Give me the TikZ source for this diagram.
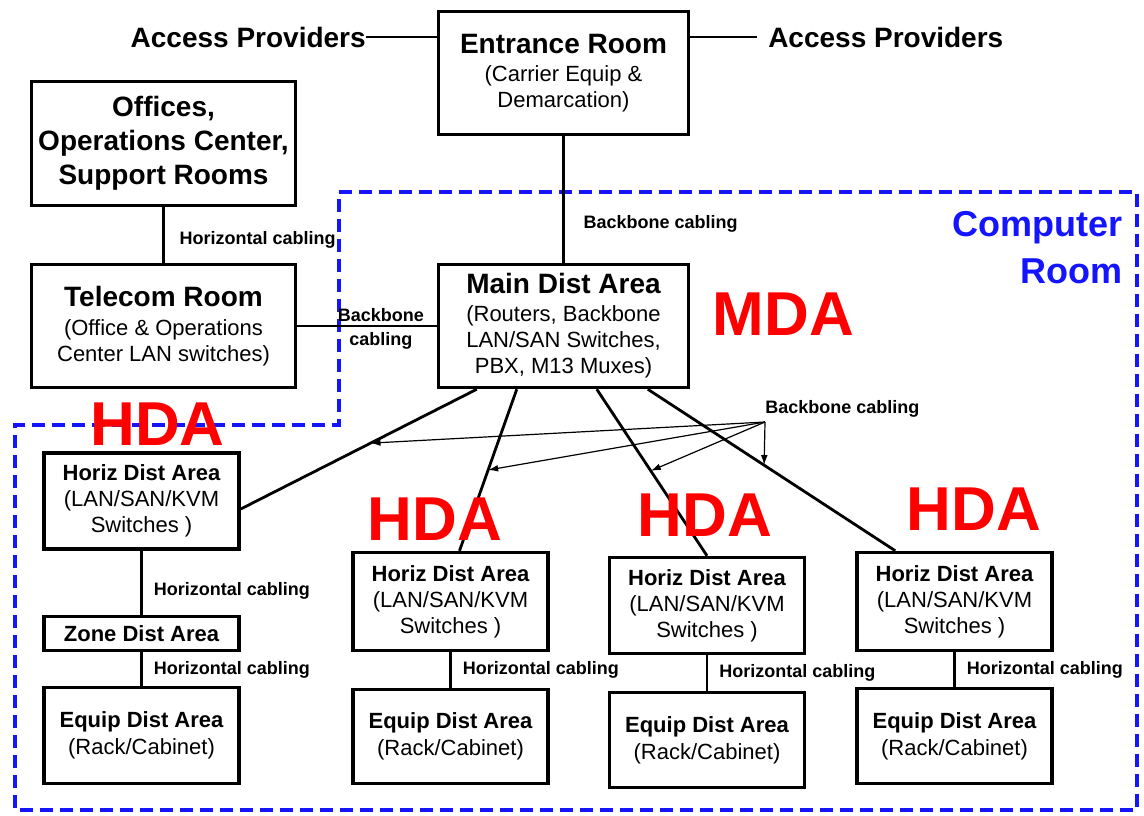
\documentclass[tikz,border=0pt]{standalone}
\usepackage{fontspec}
\setmainfont{Liberation Sans}
\usetikzlibrary{arrows.meta,calc}

\newcommand{\ttl}{\fontsize{21}{21}\selectfont\bfseries}
\def\px{0.75pt}

\begin{document}
\begin{tikzpicture}[x=0.75pt, y=-0.75pt,
  box/.style={draw, line width=2.6pt, align=center, inner sep=0pt, font=\fontsize{16.5}{19.5}\selectfont},
  bigbox/.style={box, minimum width=250*\px, minimum height=123*\px},
  widebox/.style={box, minimum width=264*\px, minimum height=124*\px},
  areabox/.style={box, minimum width=195*\px, minimum height=96*\px},
  zonebox/.style={box, minimum width=195*\px, minimum height=34*\px},
  link/.style={line width=2.1pt},
  feed/.style={line width=0.9pt, -{Latex[length=7.5pt,width=5pt]}},
  cab/.style={font=\fontsize{13.5}{18}\selectfont\bfseries, inner sep=0pt},
  cabr/.style={cab, right=8.25pt},
  provider/.style={font=\ttl, inner sep=0pt},
  tag/.style={text=tagred, font=\fontsize{46.5}{46.5}\selectfont\bfseries, inner sep=0pt},
  roomline/.style={draw=roomblue, line width=2.6pt, dash pattern=on 9.75pt off 5.25pt}
]
\definecolor{roomblue}{RGB}{20,20,255}
\definecolor{tagred}{RGB}{255,0,0}

\useasboundingbox (0,0) rectangle (1144,815);

% Computer room outline
\draw[roomline] (339,192) -- (1137,192) -- (1137,810) -- (15,810) -- (15,425) -- (339,425) -- cycle;
\node[anchor=east, align=right, inner sep=0pt, text=roomblue, font=\fontsize{27}{35.25}\selectfont\bfseries] (roomname) at (1123,247.5) {Computer\\Room};

% Rooms outside
\node[bigbox] (entrance) at (563.5,73) {{\ttl Entrance Room}\\[2pt] (Carrier Equip \&\\ Demarcation)};
\node[widebox, font=\fontsize{21}{25.5}\selectfont\bfseries] (offices) at (163.5,143.5) {Offices,\\ Operations Center,\\ Support Rooms};
\node[widebox, minimum height=123*\px] (telecom) at (163.5,326) {{\ttl Telecom Room}\\[2pt] (Office \& Operations\\ Center LAN switches)};
\node[bigbox] (mda) at (563.5,326) {{\ttl Main Dist Area}\\[1.5pt] (Routers, Backbone\\ LAN/SAN Switches,\\ PBX, M13 Muxes)};

% Access providers
\node[provider, anchor=east] (ap1) at (366,37) {Access Providers};
\node[provider, anchor=west] (ap2) at (768,37) {Access Providers};
\draw[link] (ap1.east) -- (ap1.east -| entrance.west);
\draw[link] ([xshift=-8.25pt]ap2.west) -- (ap2.west -| entrance.east);

% Horizontal dist areas
\node[areabox] (hda1) at (141.5,501) {{\bfseries Horiz Dist Area}\\ (LAN/SAN/KVM\\ Switches )};
\node[zonebox] (zda) at (141.5,633.5) {\bfseries Zone Dist Area};
\node[areabox] (eda1) at (141.5,735.5) {{\bfseries Equip Dist Area}\\[1pt] (Rack/Cabinet)};

\node[areabox, minimum height=98*\px] (hda2) at (450.5,601.5) {{\bfseries Horiz Dist Area}\\ (LAN/SAN/KVM\\ Switches )};
\node[areabox, minimum height=94*\px] (eda2) at (450.5,736.5) {{\bfseries Equip Dist Area}\\[1pt] (Rack/Cabinet)};

\node[areabox] (hda3) at (707,605.5) {{\bfseries Horiz Dist Area}\\ (LAN/SAN/KVM\\ Switches )};
\node[areabox, minimum height=95*\px] (eda3) at (707,740) {{\bfseries Equip Dist Area}\\[1pt] (Rack/Cabinet)};

\node[areabox, minimum height=98*\px] (hda4) at (954.5,601.5) {{\bfseries Horiz Dist Area}\\ (LAN/SAN/KVM\\ Switches )};
\node[areabox, minimum height=95*\px] (eda4) at (954.5,736) {{\bfseries Equip Dist Area}\\[1pt] (Rack/Cabinet)};

% Cabling
\draw[link] (offices) -- node[cab, right=11pt, pos=0.59] {Horizontal cabling} (telecom);
\draw[link, line width=1.6pt] (telecom) -- node[cab, align=center, pos=0.6, yshift=-2.5pt] {Backbone\\cabling} (mda);
\draw[link] (entrance) -- node[cab, right=14pt, pos=0.69] {Backbone cabling} (mda);

\draw[link] (hda1) -- node[cabr, pos=0.62] {Horizontal cabling} (zda);
\draw[link] (zda) -- node[cabr, pos=0.53] {Horizontal cabling} (eda1);
\draw[link] (hda2) -- node[cabr] {Horizontal cabling} (eda2);
\draw[link] (hda3) -- node[cabr] {Horizontal cabling} (eda3);
\draw[link] (hda4) -- node[cabr] {Horizontal cabling} (eda4);

% MDA down to the HDAs
\coordinate (m1) at ($(mda.south west)+(40,0)$);
\coordinate (m2) at ($(mda.south west)+(80,0)$);
\coordinate (m3) at ($(mda.south west)+(160,0)$);
\coordinate (m4) at ($(mda.south west)+(211,0)$);
\coordinate (h1) at ($(hda1.east)+(0,8)$);
\coordinate (h2) at ($(hda2.north)+(9,0)$);
\coordinate (h3) at (hda3.north);
\coordinate (h4) at ($(hda4.north west)+(40,0)$);
\draw[link] (m1) -- (h1);
\draw[link] (m2) -- (h2);
\draw[link] (m3) -- (h3);
\draw[link] (m4) -- (h4);

\node[cab, anchor=west] (bbtext) at (765,409) {Backbone cabling};
\coordinate (bb) at (765,422);
\draw[feed] (bb) -- ($(m1)!0.45!(h1)$);
\draw[feed] (bb) -- ($(m2)!0.5!(h2)$);
\draw[feed] (bb) -- ($(m3)!0.49!(h3)$);
\draw[feed] (bb) -- ($(m4)!0.47!(h4)$);

% Red tags
\node[tag] (tagmda) at (783.5,314) {MDA};
\node[tag] (taghda1) at (157.5,424) {HDA};
\node[tag] (taghda2) at (435,519) {HDA};
\node[tag] (taghda3) at (705,515) {HDA};
\node[tag] (taghda4) at (974,509.5) {HDA};

\end{tikzpicture}
\end{document}
